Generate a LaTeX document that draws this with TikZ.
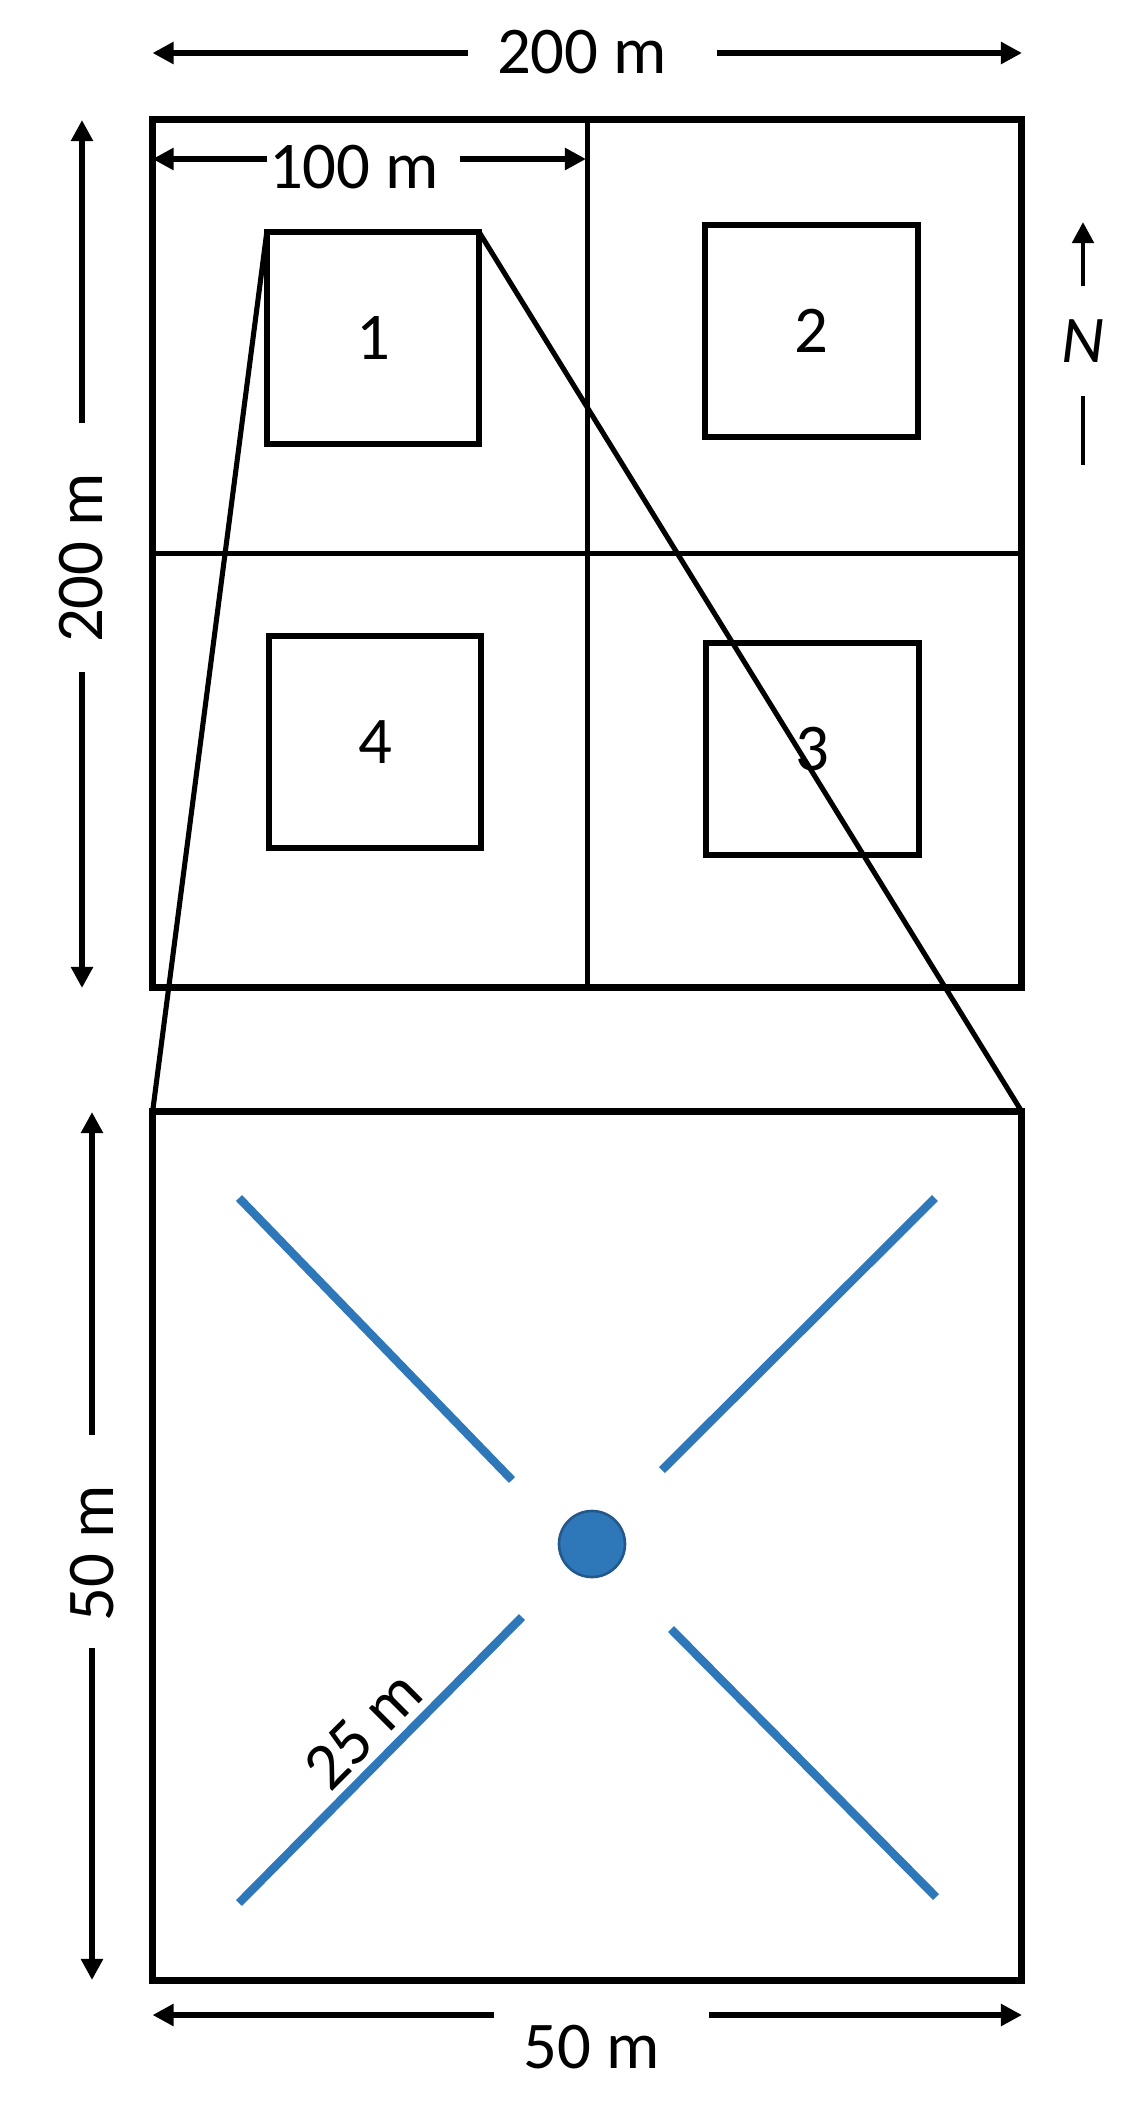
\documentclass[tikz,border=0pt]{standalone}
\usepackage{fontspec}
\setmainfont{Carlito}
\usetikzlibrary{arrows.meta}
\definecolor{bl}{HTML}{2E78BA}
\definecolor{bldark}{HTML}{24588A}
\begin{document}
\begin{tikzpicture}[x=0.02cm,y=-0.02cm,
  lbl/.style={font=\fontsize{38}{44}\selectfont, inner sep=0pt},
  plotbox/.style={draw, line width=4pt, inner sep=0pt, outer sep=0pt, minimum width=17.39cm, minimum height=17.37cm},
  subbox/.style={draw, line width=3.3pt, inner sep=0pt, outer sep=0pt, minimum width=4.25cm, minimum height=4.23cm, font=\fontsize{38}{44}\selectfont},
  divider/.style={line width=3pt},
  zoomline/.style={line width=2.9pt},
  dimarrow/.style={line width=3.6pt, -{Triangle[length=12pt,width=12pt]}},
  northarrow/.style={line width=2.8pt, -{Triangle[length=12pt,width=12pt]}},
  transect/.style={draw=bl, line width=4.8pt},
]
\useasboundingbox (0,0) rectangle (1142,2117);

% top plot
\node[plotbox] (big) at (587.25,553.5) {};
\draw[divider] (big.north) -- (big.south);
\draw[divider] (big.west) -- (big.east);
\node[subbox] (sq1) at (373,338) {1};
\node[subbox] (sq2) at (811.5,331) {2};
\node[subbox] (sq4) at (375,742) {4};
\node[subbox] (sq3) at (812.5,749) {3};

% zoomed plot
\node[plotbox] (zoom) at (587.25,1546) {};
\draw[zoomline] (sq1.north west) -- (zoom.north west);
\draw[zoomline] (sq1.north east) -- (zoom.north east);

% top 200 m
\node[lbl] (t200) at (582,52) {200 m};
\coordinate (t200a) at (468,53); \coordinate (t200b) at (152.5,53);
\coordinate (t200c) at (717,53); \coordinate (t200d) at (1022,53);
\draw[dimarrow] (t200a) -- (t200b);
\draw[dimarrow] (t200c) -- (t200d);

% 100 m
\node[lbl] (t100) at (354,167) {100 m};
\coordinate (t100a) at (267,159); \coordinate (t100b) at (152.5,159);
\coordinate (t100c) at (460,159); \coordinate (t100d) at (586,159);
\draw[dimarrow] (t100a) -- (t100b);
\draw[dimarrow] (t100c) -- (t100d);

% left 200 m
\node[lbl, rotate=90] (l200) at (81.5,558) {200 m};
\coordinate (l200a) at (82,423); \coordinate (l200b) at (82,120);
\coordinate (l200c) at (82,672); \coordinate (l200d) at (82,988);
\draw[dimarrow] (l200a) -- (l200b);
\draw[dimarrow] (l200c) -- (l200d);

% north
\node[lbl, font=\fontsize{38}{44}\selectfont\itshape] (north) at (1083,341) {N};
\coordinate (na) at (1083,286); \coordinate (nb) at (1083,222);
\coordinate (nc) at (1083,396); \coordinate (nd) at (1083,465);
\draw[northarrow] (na) -- (nb);
\draw[line width=2.8pt] (nc) -- (nd);

% left 50 m
\node[lbl, rotate=90] (l50) at (92,1553) {50 m};
\coordinate (l50a) at (92,1435); \coordinate (l50b) at (92,1112);
\coordinate (l50c) at (92,1648); \coordinate (l50d) at (92,1980);
\draw[dimarrow] (l50a) -- (l50b);
\draw[dimarrow] (l50c) -- (l50d);

% bottom 50 m
\node[lbl] (b50) at (592,2047) {50 m};
\coordinate (b50a) at (494,2015); \coordinate (b50b) at (152.5,2015);
\coordinate (b50c) at (709,2015); \coordinate (b50d) at (1022,2015);
\draw[dimarrow] (b50a) -- (b50b);
\draw[dimarrow] (b50c) -- (b50d);

% transects
\coordinate (nw1) at (239,1198); \coordinate (nw2) at (512,1480);
\coordinate (ne1) at (935,1198); \coordinate (ne2) at (662,1470);
\coordinate (sw1) at (522,1617); \coordinate (sw2) at (239,1903);
\coordinate (se1) at (671,1629); \coordinate (se2) at (936,1897);
\draw[transect] (nw1) -- (nw2);
\draw[transect] (ne1) -- (ne2);
\draw[transect] (sw1) -- (sw2);
\draw[transect] (se1) -- (se2);
\node[circle, fill=bl, draw=bldark, line width=1.5pt, minimum size=1.32cm, inner sep=0pt] (ctr) at (592,1544) {};

\node[lbl, rotate=45] (t25) at (363,1730) {25 m};
\end{tikzpicture}
\end{document}
